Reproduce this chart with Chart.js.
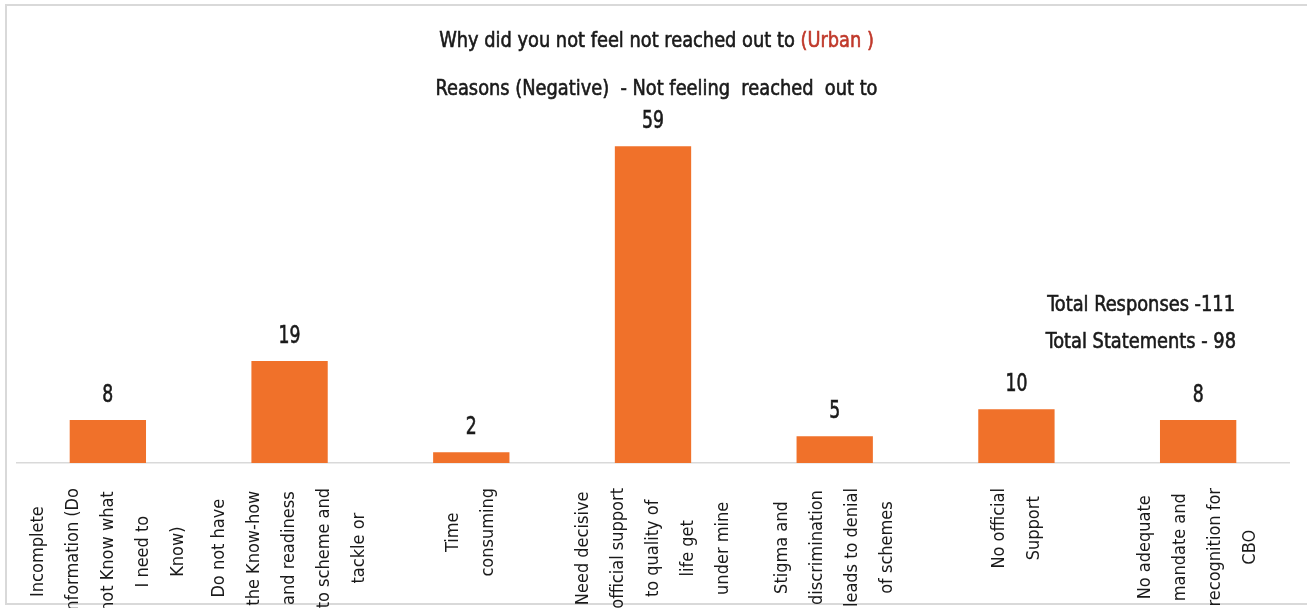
<!DOCTYPE html>
<html>
<head>
<meta charset="utf-8">
<script src="https://cdn.jsdelivr.net/npm/chart.js@4.4.0/dist/chart.umd.min.js"></script>
<style>
  body { margin: 0; background: #fff; }
  #wrap { position: relative; width: 1307px; height: 608px; overflow: hidden; }
  #frame { position: absolute; left: 5px; top: 4px; width: 1330px; height: 597px; border: 2px solid #d9d9d9; }
  canvas { position: absolute; left: 0; top: 0; }
</style>
</head>
<body>
<div id="wrap">
  <div id="frame"></div>
  <canvas id="chart" width="1307" height="608"></canvas>
</div>
<script>
// reasons, already broken into the lines they are printed on
const categories = [
    ['Incomplete', 'information (Do', 'not Know what', 'I need to', 'Know)'],
    ['Do not have', 'the Know-how', 'and readiness', 'to scheme and', 'tackle or'],
    ['Time', 'consuming'],
    ['Need decisive', 'official support', 'to quality of', 'life get', 'under mine'],
    ['Stigma and', 'discrimination', 'leads to denial', 'of schemes'],
    ['No official', 'Support'],
    ['No adequate', 'mandate and', 'recognition for', 'CBO']
];
const counts = [8, 19, 2, 59, 5, 10, 8];

const titleMain = 'Why did you not feel not reached out to ';
const titleTag = '(Urban )';
const subtitle = 'Reasons (Negative)  - Not feeling  reached  out to';
const totals = ['Total Responses -111', 'Total Statements - 98'];

const textFont = '"DejaVu Sans Condensed", "Liberation Sans", sans-serif';
const lineGap = 35;

// draws text squeezed horizontally, the fonts on hand are wider than the narrow face wanted
// a thin stroke of the same colour gives it a little more weight
function narrowText(ctx, text, x, y, squeeze, align) {
    const w = ctx.measureText(text).width * squeeze;
    let left = x;
    if (align === 'center') left = x - w / 2;
    if (align === 'right') left = x - w;
    ctx.save();
    ctx.textAlign = 'left';
    ctx.translate(left, y);
    ctx.scale(squeeze, 1);
    ctx.strokeStyle = ctx.fillStyle;
    ctx.lineWidth = 0.6;
    ctx.fillText(text, 0, 0);
    ctx.strokeText(text, 0, 0);
    ctx.restore();
    return w;
}

const annotate = {
    id: 'annotate',
    afterDraw(chart) {
        const ctx = chart.ctx;
        const xScale = chart.scales.x;
        const meta = chart.getDatasetMeta(0);
        const mid = chart.width / 2 + 3;
        ctx.save();
        ctx.fillStyle = '#1a1a1a';
        ctx.textBaseline = 'alphabetic';

        // counts above the bars
        ctx.font = '24px ' + textFont;
        meta.data.forEach((bar, i) => narrowText(ctx, String(counts[i]), bar.x, bar.y - 18, 0.8, 'center'));

        // title, with the area tag in red
        ctx.font = '22px ' + textFont;
        const sq = 0.9;
        const wMain = ctx.measureText(titleMain).width * sq;
        const wTag = ctx.measureText(titleTag).width * sq;
        const tx = mid - (wMain + wTag) / 2;
        narrowText(ctx, titleMain, tx, 47, sq, 'left');
        ctx.fillStyle = '#c0392b';
        narrowText(ctx, titleTag, tx + wMain, 47, sq, 'left');
        ctx.fillStyle = '#1a1a1a';
        narrowText(ctx, subtitle, mid, 95, sq, 'center');

        // totals box on the right
        narrowText(ctx, totals[0], 1235, 311, sq, 'right');
        narrowText(ctx, totals[1], 1236, 348, sq, 'right');

        // category names, rotated, one column per line
        ctx.font = '18px ' + textFont;
        ctx.textAlign = 'center';
        ctx.textBaseline = 'middle';
        categories.forEach((lines, i) => {
            const cx = xScale.getPixelForValue(i);
            const longest = Math.max(...lines.map(l => ctx.measureText(l).width));
            const cy = chart.chartArea.bottom + 25 + longest / 2;
            lines.forEach((line, j) => {
                ctx.save();
                ctx.translate(cx + (j - (lines.length - 1) / 2) * lineGap, cy);
                ctx.rotate(-Math.PI / 2);
                ctx.fillText(line, 0, 0);
                ctx.restore();
            });
        });
        ctx.restore();
    }
};

new Chart(document.getElementById('chart').getContext('2d'), {
    type: 'bar',
    data: {
        labels: categories.map(c => c.join(' ')),
        datasets: [{
            data: counts,
            backgroundColor: '#f0712a',
            borderWidth: 0,
            categoryPercentage: 1,
            barPercentage: 0.42
        }]
    },
    options: {
        responsive: false,
        animation: false,
        layout: { padding: { top: 98, bottom: 137, left: 17, right: 18 } },
        plugins: {
            legend: { display: false },
            tooltip: { enabled: false }
        },
        scales: {
            x: {
                grid: { display: false },
                ticks: { display: false },
                border: { color: '#d9d9d9', width: 1.5 }
            },
            y: {
                display: false,
                min: 0,
                max: 68
            }
        }
    },
    plugins: [annotate]
});
</script>
</body>
</html>
